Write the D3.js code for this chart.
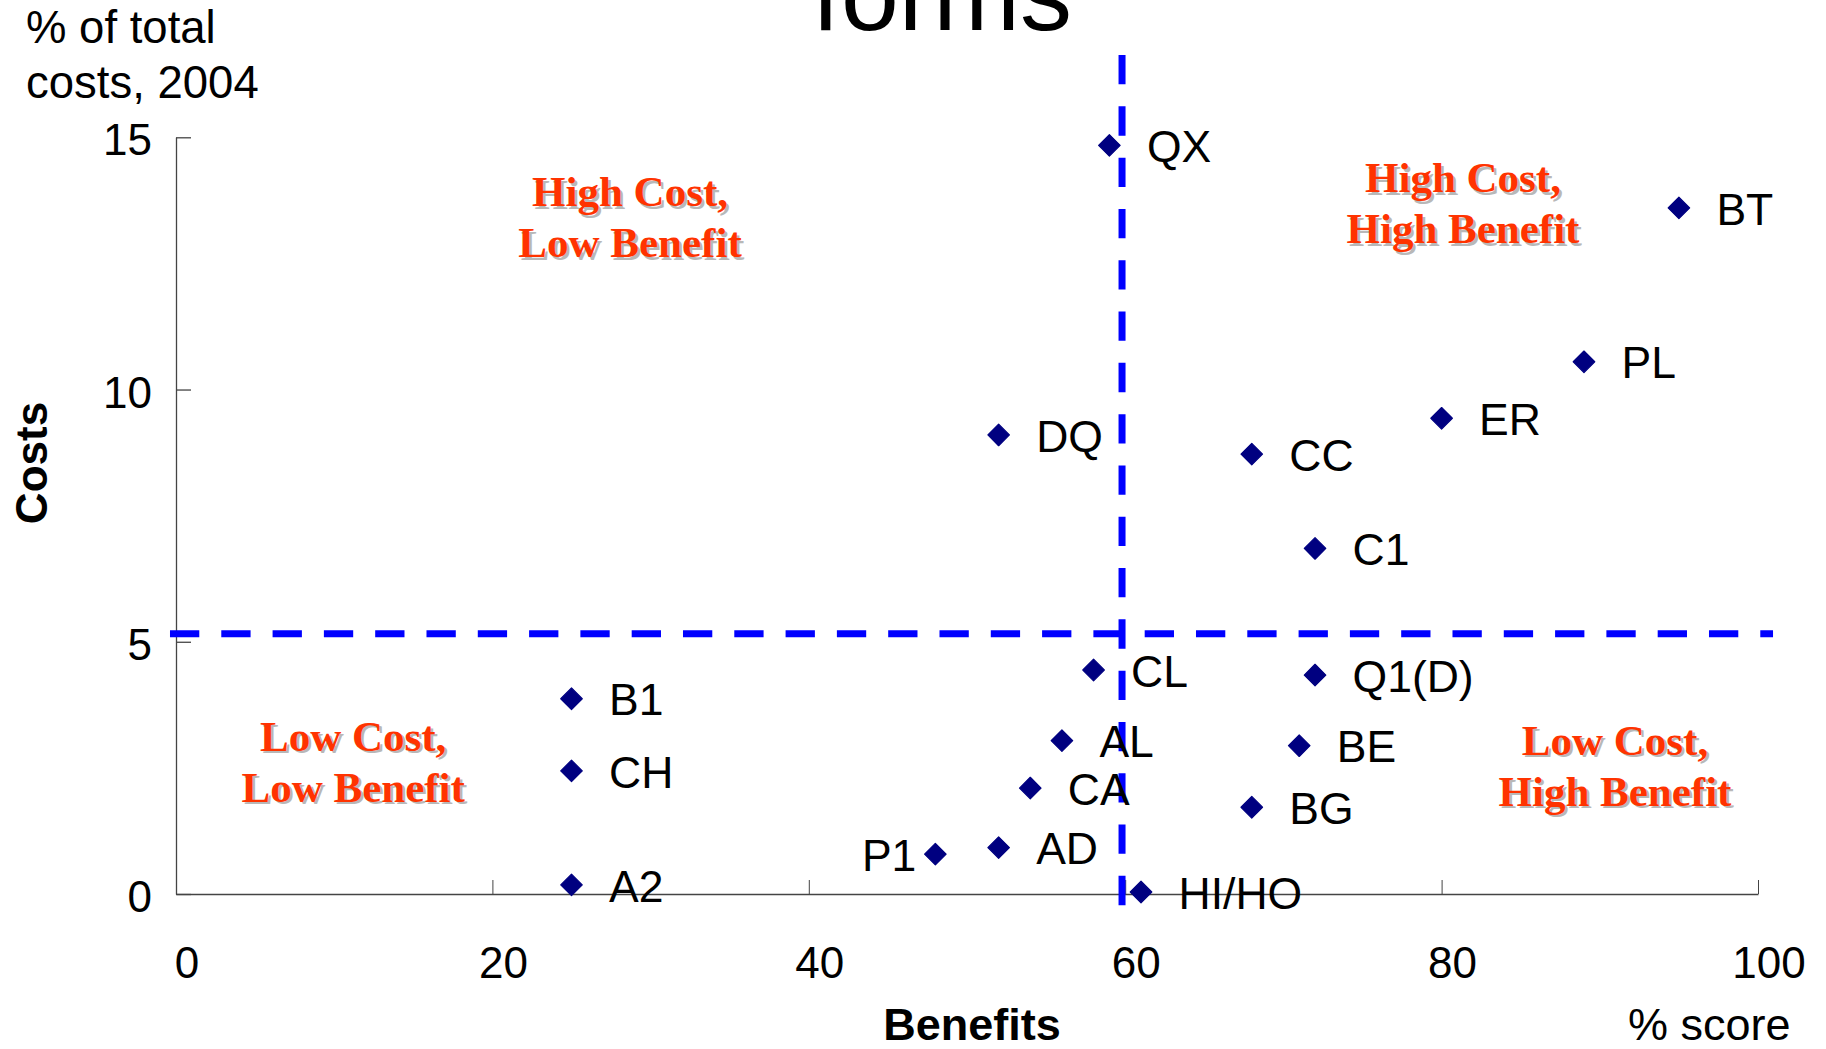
<!DOCTYPE html>
<html>
<head>
<meta charset="utf-8">
<script src="https://cdn.jsdelivr.net/npm/d3@7"></script>
<style>
  html, body { margin: 0; padding: 0; background: #fff; }
  svg { display: block; }
</style>
</head>
<body>
<svg id="chart" width="1826" height="1049"></svg>
<script>
// ---- data ----
const names    = ["QX", "BT", "PL", "ER", "DQ", "CC", "C1", "CL", "Q1(D)", "AL", "BE", "CA", "BG", "AD", "P1", "HI/HO", "B1", "CH", "A2"];
const benefits = [59, 95, 89, 80, 52, 68, 72, 58, 72, 56, 71, 54, 68, 52, 48, 61, 25, 25, 25];
const costs    = [14.84, 13.6, 10.55, 9.43, 9.1, 8.72, 6.85, 4.44, 4.34, 3.04, 2.94, 2.1, 1.72, 0.92, 0.79, 0.04, 3.87, 2.44, 0.18];
const leftLabelNames = ["P1"];

const xTicks = [0, 20, 40, 60, 80, 100];
const yTicks = [0, 5, 10, 15];

const benefitThreshold = 59.8;
const costThreshold = 5.16;

const quadrantTexts = [
  ["High Cost,", "Low Benefit"],
  ["High Cost,", "High Benefit"],
  ["Low Cost,", "Low Benefit"],
  ["Low Cost,", "High Benefit"]
];
const quadrantX = [28.7, 81.35, 11.2, 90.96];
const quadrantY = [13.63, 13.91, 2.84, 2.76];

const titleText = "forms";
const yUnitLines = ["% of total", "costs, 2004"];
const xTitle = "Benefits";
const yTitle = "Costs";
const xUnit = "% score";

// ---- layout ----
const SANS = "'Liberation Sans', Arial, sans-serif";
const SERIF = "'Liberation Serif', 'Times New Roman', serif";
const svg = d3.select("#chart").style("font-family", SANS);
const x = d3.scaleLinear().domain([0, 100]).range([176, 1758]);
const y = d3.scaleLinear().domain([0, 15]).range([894, 137.3]);

// title (partially cut off at top, as in the reference)
svg.append("text")
  .attr("x", 812).attr("y", 29.5)
  .style("font-family", SANS)
  .attr("font-size", 104)
  .attr("fill", "#000")
  .text(titleText);

// y unit label
svg.selectAll("text.yunit").data(yUnitLines).enter().append("text")
  .attr("class", "yunit")
  .attr("x", 26)
  .attr("y", (d, i) => 43 + i * 55)
  .style("font-family", SANS)
  .attr("font-size", 45.5)
  .text(d => d);

// axes
const xAxis = d3.axisBottom(x).tickValues(xTicks).tickSizeInner(-14).tickSizeOuter(0).tickFormat("");
const gx = svg.append("g").attr("transform", `translate(0,${y(0)})`).call(xAxis);
gx.select(".domain").attr("stroke", "#444").attr("stroke-width", 1.5);
gx.selectAll(".tick line").attr("stroke", "#444").attr("stroke-width", 1);

const yAxis = d3.axisLeft(y).tickValues(yTicks).tickSizeInner(-15).tickSizeOuter(0).tickFormat("");
const gy = svg.append("g").attr("transform", `translate(${x(0)},0)`).call(yAxis);
gy.select(".domain").attr("stroke", "#444").attr("stroke-width", 1.3);
gy.selectAll(".tick line").attr("stroke", "#444").attr("stroke-width", 1.3);

// tick labels
svg.selectAll("text.xt").data(xTicks).enter().append("text")
  .attr("class", "xt")
  .attr("x", d => x(d) + 11)
  .attr("y", 978)
  .attr("text-anchor", "middle")
  .style("font-family", SANS)
  .attr("font-size", 44)
  .text(d => d);

svg.selectAll("text.yt").data(yTicks).enter().append("text")
  .attr("class", "yt")
  .attr("x", x(0) - 24)
  .attr("y", d => y(d) + 18)
  .attr("text-anchor", "end")
  .style("font-family", SANS)
  .attr("font-size", 44)
  .text(d => d);

// axis titles
svg.append("text")
  .attr("x", 972).attr("y", 1040)
  .attr("text-anchor", "middle")
  .style("font-family", SANS)
  .attr("font-size", 45).attr("font-weight", "bold")
  .text(xTitle);

svg.append("text")
  .attr("x", 1628).attr("y", 1040)
  .style("font-family", SANS)
  .attr("font-size", 45)
  .text(xUnit);

svg.append("text")
  .attr("transform", "translate(47,463) rotate(-90)")
  .attr("text-anchor", "middle")
  .style("font-family", SANS)
  .attr("font-size", 44).attr("font-weight", "bold")
  .text(yTitle);

// threshold dashed lines
svg.append("line")
  .attr("x1", x(-0.38)).attr("x2", x(100.95))
  .attr("y1", y(costThreshold)).attr("y2", y(costThreshold))
  .attr("stroke", "#0000FF").attr("stroke-width", 7)
  .attr("stroke-dasharray", "29.3 22");

svg.append("line")
  .attr("x1", x(benefitThreshold)).attr("x2", x(benefitThreshold))
  .attr("y1", y(16.63)).attr("y2", y(-0.24))
  .attr("stroke", "#0000FF").attr("stroke-width", 7)
  .attr("stroke-dasharray", "29.3 22");

// quadrant labels
const qg = svg.append("g");
quadrantTexts.forEach((lines, qi) => {
  lines.forEach((t, li) => {
    const px = x(quadrantX[qi]);
    const py = y(quadrantY[qi]) + li * 51;
    qg.append("text")
      .attr("x", px + 2.5).attr("y", py + 2.5)
      .attr("text-anchor", "middle")
      .style("font-family", SERIF)
      .attr("font-weight", "bold").attr("font-size", 43)
      .attr("fill", "#b8b8b8")
      .text(t);
    qg.append("text")
      .attr("x", px).attr("y", py)
      .attr("text-anchor", "middle")
      .style("font-family", SERIF)
      .attr("font-weight", "bold").attr("font-size", 43)
      .attr("fill", "#FF3300")
      .text(t);
  });
});

// points
const pts = names.map((n, i) => ({ name: n, bx: benefits[i], cy: costs[i] }));
const sym = d3.symbol().type(d3.symbolSquare).size(232);

svg.selectAll("path.pt").data(pts).enter().append("path")
  .attr("class", "pt")
  .attr("d", sym)
  .attr("transform", d => `translate(${x(d.bx)},${y(d.cy)}) rotate(45)`)
  .attr("fill", "#000080")
  .attr("stroke", "#000080")
  .attr("stroke-width", 1.2)
  .attr("stroke-linejoin", "round");

svg.selectAll("text.lbl").data(pts).enter().append("text")
  .attr("class", "lbl")
  .attr("x", d => leftLabelNames.includes(d.name) ? x(d.bx) - 19 : x(d.bx) + 37.5)
  .attr("y", d => y(d.cy) + 16.7)
  .attr("text-anchor", d => leftLabelNames.includes(d.name) ? "end" : "start")
  .style("font-family", SANS)
  .attr("font-size", 44.5)
  .attr("fill", "#000")
  .text(d => d.name);
</script>
</body>
</html>
